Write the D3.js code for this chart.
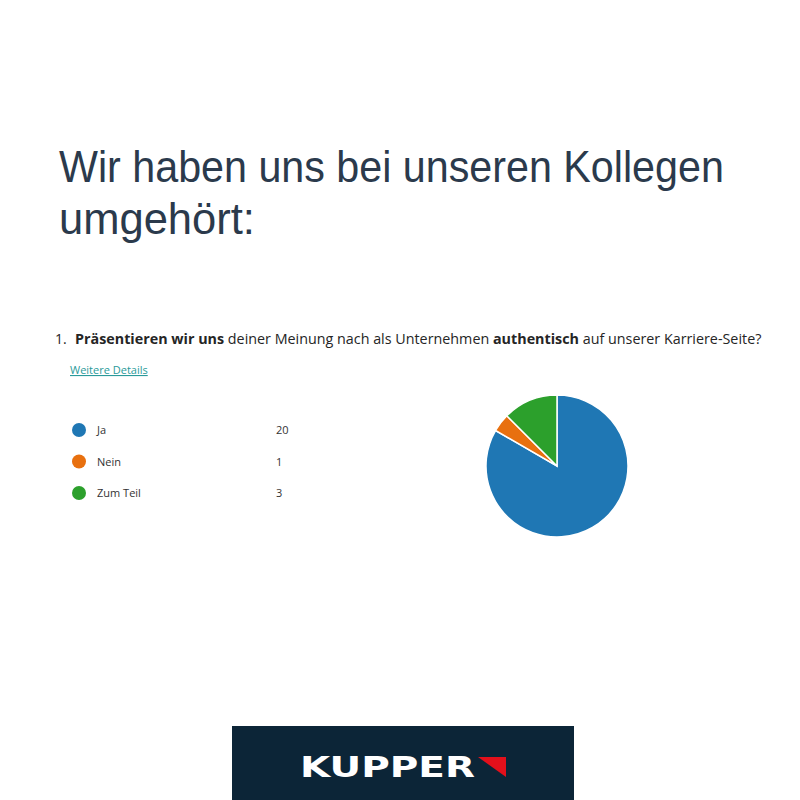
<!DOCTYPE html>
<html>
<head>
<meta charset="utf-8">
<script src="https://cdn.jsdelivr.net/npm/d3@7"></script>
<style>
  html, body { margin: 0; padding: 0; background: #fff; }
  svg { display: block; }
</style>
</head>
<body>
<svg id="chart" width="800" height="800"></svg>
<script>
var answers = ["Ja", "Nein", "Zum Teil"];
var counts = [20, 1, 3];
var colors = ["#1f77b4", "#e8700f", "#2ca02c"];
var titleLines = ["Wir haben uns bei unseren Kollegen", "umgehört:"];
var titleWidths = [665, 196];

var svg = d3.select("#chart");

// headline, squeezed horizontally to the narrow face of the original
titleLines.forEach(function(line, i) {
  var g = svg.append("g");
  var t = g.append("text").attr("x", 0).attr("y", 0).attr("fill", "#2b3a4c")
    .style("font-family", "'Liberation Sans', sans-serif").style("font-size", "45px")
    .text(line);
  var sx = titleWidths[i] / t.node().getComputedTextLength();
  g.attr("transform", "translate(59," + (182 + i * 52) + ") scale(" + sx + ",1)");
});

// question
var qg = svg.append("g");
var q = qg.append("text").attr("x", 0).attr("y", 0)
  .attr("fill", "#252525")
  .style("font-family", "'Open Sans', sans-serif").style("font-size", "14px");
q.append("tspan").attr("font-weight", "bold").text("Präsentieren wir uns");
q.append("tspan").text(" deiner Meinung nach als Unternehmen ");
q.append("tspan").attr("font-weight", "bold").text("authentisch");
q.append("tspan").text(" auf unserer Karriere-Seite?");
var qsx = 687 / q.node().getComputedTextLength();
qg.attr("transform", "translate(75,344) scale(" + qsx + ",1)");
svg.append("text").attr("x", 55).attr("y", 344).attr("fill", "#252525")
  .style("font-family", "'Open Sans', sans-serif").style("font-size", "14px")
  .text("1.");

svg.append("text").attr("x", 70).attr("y", 374)
  .attr("fill", "#2a9a9a").attr("text-decoration", "underline")
  .style("font-family", "'Open Sans', sans-serif").style("font-size", "11px")
  .text("Weitere Details");

// legend
var legend = svg.append("g").style("font-family", "'Open Sans', sans-serif")
  .style("font-size", "11px").attr("fill", "#333");
var rows = legend.selectAll("g").data(answers).join("g")
  .attr("transform", function(d, i) { return "translate(0," + (430 + i * 31.5) + ")"; });
rows.append("circle").attr("cx", 79).attr("cy", 0).attr("r", 7)
  .attr("fill", function(d, i) { return colors[i]; });
rows.append("text").attr("x", 97).attr("y", 4).text(function(d) { return d; });
rows.append("text").attr("x", 276).attr("y", 4).text(function(d, i) { return counts[i]; });

// pie
var pie = d3.pie().sort(null).value(function(d) { return d; });
var arc = d3.arc().innerRadius(0).outerRadius(71);
svg.append("g").attr("transform", "translate(557,466)")
  .selectAll("path").data(pie(counts)).join("path")
  .attr("d", arc)
  .attr("fill", function(d, i) { return colors[i]; })
  .attr("stroke", "#fff").attr("stroke-width", 1.5);

// logo banner
svg.append("rect").attr("x", 232).attr("y", 726).attr("width", 342).attr("height", 74)
  .attr("fill", "#0c2537");
var lg = svg.append("g");
var lt = lg.append("text").attr("x", 0).attr("y", 0)
  .attr("fill", "#fff").attr("font-weight", "bold")
  .style("font-family", "'DejaVu Sans', sans-serif").style("font-size", "29px")
  .text("KUPPER");
lg.attr("transform", "translate(300,777) scale(" + (175 / lt.node().getComputedTextLength()) + ",1)");
svg.append("path").attr("d", "M478,757 L506,757 L506,777 Z").attr("fill", "#e3101b");
</script>
</body>
</html>
